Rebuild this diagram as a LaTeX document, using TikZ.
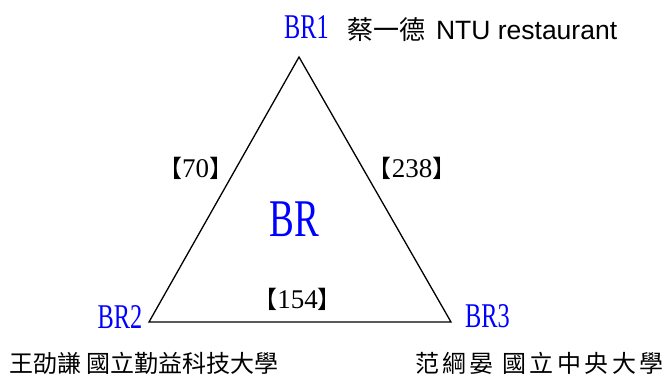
\documentclass[tikz,border=0pt]{standalone}
\usepackage{fontspec}
\setmainfont{Liberation Serif}
\newfontfamily\cjk{Noto Sans CJK TC}
\newfontfamily\cjkwide[LetterSpace=14]{Noto Sans CJK TC}
\newfontfamily\narrowserif[FakeStretch=0.7]{Liberation Serif}
\newfontfamily\arialfont{Liberation Sans}
\usepackage{tikz}

\newcommand{\brk}[1]{{\cjk\fontsize{24}{24}\selectfont #1}}
\newcommand{\weightlabel}[1]{\brk{【}#1\brk{】}}

\tikzset{
  brname/.style={inner sep=0, text=blue, font=\narrowserif\fontsize{34.7}{36}\selectfont},
  weight/.style={inner sep=0, font=\fontsize{27}{27}\selectfont},
  school/.style={inner sep=0, anchor=west, font=\cjk\fontsize{24}{24}\selectfont}
}

\begin{document}
\begin{tikzpicture}[x=1pt,y=-1pt]
\useasboundingbox (0,0) rectangle (664,376);
\coordinate (v1) at (299,57);
\coordinate (v2) at (149,322);
\coordinate (v3) at (451,322);
\draw [line width=1.3pt] (v1)--(v2)--(v3)--cycle;
% branch names
\draw (306.5,38)node[brname, anchor=base] (br1) {BR1};
\draw (120,328)node[brname, anchor=base] (br2) {BR2};
\draw (487.5,327.5)node[brname, anchor=base] (br3) {BR3};
\draw (294.5,219.5)node[inner sep=0, text=blue, font=\narrowserif\fontsize{53}{54}\selectfont] (br) {BR};
% edge weights
\draw (195.5,168)node[weight] (w12) {\weightlabel{70}};
\draw (412,168)node[weight] (w13) {\weightlabel{238}};
\draw (297.5,299.5)node[weight] (w23) {\weightlabel{154}};
% people
\draw (347,39)node[inner sep=0, anchor=base west] (p1) {\cjk\fontsize{26}{26}\selectfont 蔡一德\hspace{5pt} {\arialfont\fontsize{26.5}{27}\selectfont NTU restaurant}};
\draw (9,363.5)node[school] (p2) {王劭謙 國立勤益科技大學};
\draw (415,363.5)node[school, font=\cjkwide\fontsize{24}{24}\selectfont] (p3) {范綱晏 國立中央大學};
%\draw (v1)node[above]{$v_1$};
\end{tikzpicture}
\end{document}
